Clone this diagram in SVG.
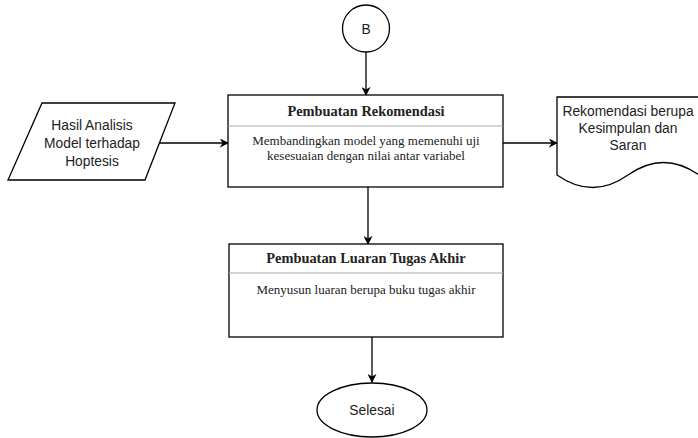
<svg xmlns="http://www.w3.org/2000/svg" width="698" height="438" viewBox="0 0 698 438">
  <defs>
    <marker id="arrow" viewBox="0 0 10 10" refX="9" refY="5" markerWidth="9" markerHeight="9" markerUnits="userSpaceOnUse" orient="auto">
      <path d="M0,0 L10,5 L0,10 L3,5 Z" fill="#000"/>
    </marker>
    <style>
      .shape { fill: #fff; stroke: #000; stroke-width: 1.3; }
      .divider { stroke: #aaa; stroke-width: 1; }
      .sans { font-family: "Liberation Sans", Arial, sans-serif; font-size: 13.8px; fill: #222; text-anchor: middle; }
      .title { font-family: "Liberation Serif", "Times New Roman", serif; font-size: 14.4px; font-weight: bold; fill: #222; text-anchor: middle; }
      .body { font-family: "Liberation Serif", "Times New Roman", serif; font-size: 13px; fill: #222; text-anchor: middle; }
      .edge { stroke: #000; stroke-width: 1.3; fill: none; marker-end: url(#arrow); }
    </style>
  </defs>
  <rect width="698" height="438" fill="#fff"/>

  <g id="connectors">
    <line class="edge" x1="366" y1="52" x2="366" y2="95"/>
    <line class="edge" x1="159" y1="143" x2="228" y2="143"/>
    <line class="edge" x1="503" y1="143" x2="557" y2="143"/>
    <line class="edge" x1="368" y1="187" x2="368" y2="244"/>
    <line class="edge" x1="372" y1="337" x2="372" y2="382"/>
  </g>

  <g id="node-b">
    <circle class="shape" cx="366" cy="28.5" r="23.5"/>
    <text class="sans" x="366" y="33.5">B</text>
  </g>

  <g id="node-hasil">
    <polygon class="shape" points="42,103 175,103 145,180 8,180"/>
    <text class="sans" x="92" y="130">Hasil Analisis</text>
    <text class="sans" x="92" y="148">Model terhadap</text>
    <text class="sans" x="92" y="166">Hoptesis</text>
  </g>

  <g id="node-rekomendasi">
    <rect class="shape" x="228" y="95" width="275" height="92"/>
    <line class="divider" x1="228" y1="126" x2="503" y2="126"/>
    <text class="title" x="366" y="116">Pembuatan Rekomendasi</text>
    <text class="body" x="366" y="144.5">Membandingkan model yang memenuhi uji</text>
    <text class="body" x="366" y="159.5">kesesuaian dengan nilai antar variabel</text>
  </g>

  <g id="node-dokumen">
    <path class="shape" d="M557,97 H699 V175 Q663.5,150 628,175 Q592.5,200 557,175 Z"/>
    <text class="sans" x="628" y="116">Rekomendasi berupa</text>
    <text class="sans" x="628" y="133">Kesimpulan dan</text>
    <text class="sans" x="628" y="150">Saran</text>
  </g>

  <g id="node-luaran">
    <rect class="shape" x="229" y="244" width="274" height="93"/>
    <line class="divider" x1="229" y1="273" x2="503" y2="273"/>
    <text class="title" x="366" y="263">Pembuatan Luaran Tugas Akhir</text>
    <text class="body" x="366" y="294">Menyusun luaran berupa buku tugas akhir</text>
  </g>

  <g id="node-selesai">
    <ellipse class="shape" cx="372" cy="410" rx="55" ry="27"/>
    <text class="sans" x="372" y="415">Selesai</text>
  </g>
</svg>
